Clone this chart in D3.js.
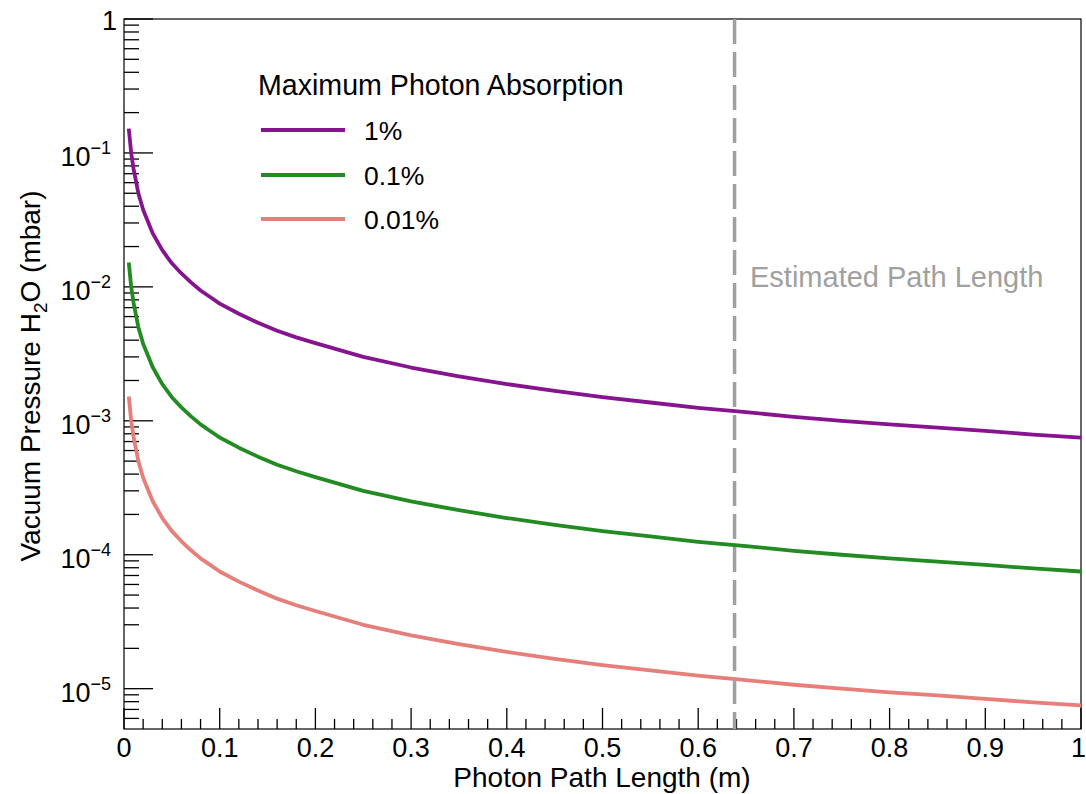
<!DOCTYPE html>
<html><head><meta charset="utf-8">
<script src="https://d3js.org/d3.v7.min.js"></script>
<style>body{margin:0;background:#fff}svg{display:block;font-family:"Liberation Sans",Arial,Helvetica,sans-serif}</style>
</head><body><svg id="c" width="1086" height="794"></svg>
<script>
const pathLength = [0.005,0.0075,0.01,0.015,0.02,0.03,0.04,0.05,0.06,0.07,0.08,0.09,0.1,0.12,0.14,0.16,0.18,0.2,0.25,0.3,0.35,0.4,0.45,0.5,0.55,0.6,0.65,0.7,0.75,0.8,0.85,0.9,0.95,1.0];
const abs1 = [0.152,0.100,0.076,0.050,0.0376,0.0251,0.0188,0.0150,0.0126,0.0108,0.0094,0.0084,0.0075,0.0063,0.0054,0.0047,0.0042,0.0038,0.0030,0.0025,0.00215,0.00188,0.00167,0.00150,0.00137,0.00125,0.00116,0.00107,0.00100,0.00094,0.00089,0.00084,0.00079,0.00075];
const abs01 = [0.0152,0.0100,0.0076,0.0050,0.00376,0.00251,0.00188,0.00150,0.00126,0.00108,0.00094,0.00084,0.00075,0.00063,0.00054,0.00047,0.00042,0.00038,0.00030,0.00025,0.000215,0.000188,0.000167,0.000150,0.000137,0.000125,0.000116,0.000107,0.000100,0.000094,0.000089,0.000084,0.000079,0.000075];
const abs001 = [0.00152,0.00100,0.00076,0.00050,0.000376,0.000251,0.000188,0.000150,0.000126,0.000108,0.000094,0.000084,0.000075,0.000063,0.000054,0.000047,0.000042,0.000038,0.000030,0.000025,0.0000215,0.0000188,0.0000167,0.0000150,0.0000137,0.0000125,0.0000116,0.0000107,0.0000100,0.0000094,0.0000089,0.0000084,0.0000079,0.0000075];
const seriesNames = ["1%","0.1%","0.01%"];
const seriesColors = ["#86148f","#228b22","#e67f7a"];
const xTickLabels = ["0","0.1","0.2","0.3","0.4","0.5","0.6","0.7","0.8","0.9","1"];
const yTickExps = [-5,-4,-3,-2,-1];
const estimatedPath = 0.638;

const svg = d3.select("#c");
const L=124,R=1081,T=19,B=729;
const x = d3.scaleLinear().domain([0,1]).range([L,R]);
const y = d3.scaleLog().domain([5e-6,1]).range([B,T]);

// frame
svg.append("rect").attr("x",L).attr("y",T).attr("width",R-L).attr("height",B-T)
  .attr("fill","none").attr("stroke","#000").attr("stroke-width",1.2);

// x ticks (inward)
const gx = svg.append("g");
for(let i=0;i<=50;i++){
  const v=i/50, major=(i%5===0);
  gx.append("line").attr("x1",x(v)).attr("x2",x(v)).attr("y1",B).attr("y2",B-(major?21:10))
    .attr("stroke","#000").attr("stroke-width",1.3);
}
xTickLabels.forEach((t,i)=>{
  const last = i===xTickLabels.length-1;
  gx.append("text").attr("x",last?1086:x(i/10)).attr("y",757)
    .attr("text-anchor",last?"end":"middle")
    .attr("font-size",27).text(t);
});

// y ticks
const gy = svg.append("g");
for(let e=-6;e<=0;e++){
  for(let m=1;m<=9;m++){
    const v=m*Math.pow(10,e);
    if(v<5e-6||v>1) continue;
    gy.append("line").attr("x1",L).attr("x2",L+(m===1?29:15)).attr("y1",y(v)).attr("y2",y(v))
      .attr("stroke","#000").attr("stroke-width",1.3);
  }
}
yTickExps.forEach(e=>{
  const t=gy.append("text").attr("x",111).attr("y",y(Math.pow(10,e))+13).attr("text-anchor","end").attr("font-size",27);
  t.append("tspan").text("10");
  t.append("tspan").attr("dy",-12).attr("font-size",18).text("\u2212"+(-e));
});
gy.append("text").attr("x",117).attr("y",y(1)+11).attr("text-anchor","end").attr("font-size",27).text("1");

// axis titles
svg.append("text").attr("x",602).attr("y",787).attr("text-anchor","middle").attr("font-size",28).text("Photon Path Length (m)");
const yt = svg.append("text").attr("transform","translate(40,376) rotate(-90)").attr("text-anchor","middle").attr("font-size",28);
yt.append("tspan").text("Vacuum Pressure H");
yt.append("tspan").attr("dy",7).attr("font-size",19).text("2");
yt.append("tspan").attr("dy",-7).text("O (mbar)");

// curves
const line = d3.line().x(d=>x(d[0])).y(d=>y(d[1]));
[abs1,abs01,abs001].forEach((s,i)=>{
  svg.append("path").datum(pathLength.map((p,j)=>[p,s[j]]))
    .attr("d",line).attr("fill","none").attr("stroke",seriesColors[i]).attr("stroke-width",3.8)
    .attr("stroke-linejoin","round");
});

// estimated path line
svg.append("line").attr("x1",x(estimatedPath)).attr("x2",x(estimatedPath)).attr("y1",T).attr("y2",B)
  .attr("stroke","#a0a0a0").attr("stroke-width",3.5).attr("stroke-dasharray","25,8");
svg.append("text").attr("x",750).attr("y",287).attr("font-size",29).attr("fill","#a0a0a0").text("Estimated Path Length");

// legend
svg.append("text").attr("x",258).attr("y",95).attr("font-size",28.6).text("Maximum Photon Absorption");
const ly=[130,175,219];
seriesNames.forEach((n,i)=>{
  svg.append("line").attr("x1",261).attr("x2",345).attr("y1",ly[i]).attr("y2",ly[i])
    .attr("stroke",seriesColors[i]).attr("stroke-width",3.8);
  svg.append("text").attr("x",364).attr("y",ly[i]+10).attr("font-size",26.5).text(n);
});
</script></body></html>
